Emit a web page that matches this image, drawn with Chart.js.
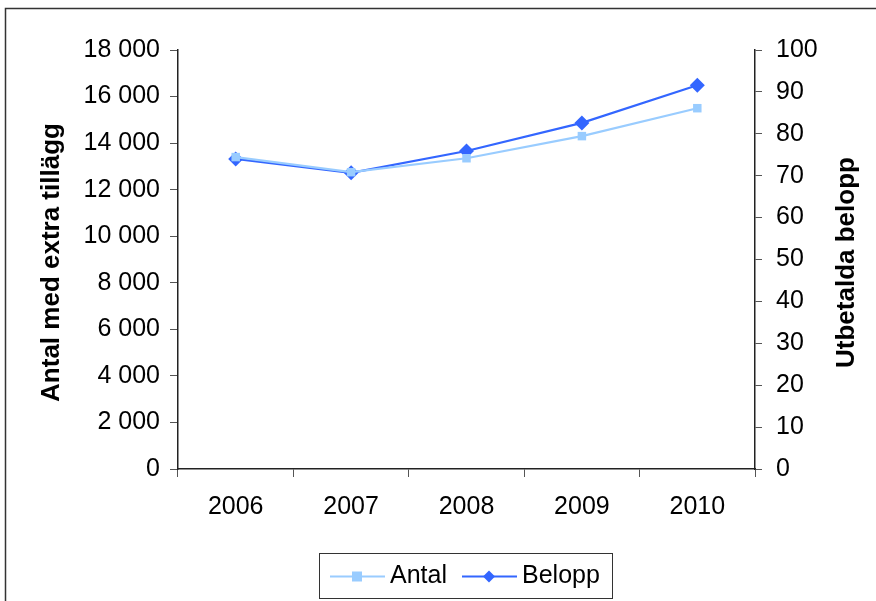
<!DOCTYPE html>
<html>
<head>
<meta charset="utf-8">
<script src="https://cdn.jsdelivr.net/npm/chart.js@4"></script>
<style>
  html, body { margin: 0; padding: 0; background: #fff; }
  #wrap { width: 876px; height: 601px; }
</style>
</head>
<body>
<div id="wrap"><canvas id="chart" width="876" height="601"></canvas></div>
<script>
// Data
const years = ['2006', '2007', '2008', '2009', '2010'];
const antal = [13400, 12750, 13350, 14300, 15500];
const belopp = [74.0, 70.7, 75.9, 82.6, 91.6];
const leftTitle = 'Antal med extra tillägg';
const rightTitle = 'Utbetalda belopp';

const FONT = '"Liberation Sans", Arial, sans-serif';
const antalColor = '#99CCFF';
const beloppColor = '#3366FF';

function fmt(v) {
    return String(v).replace(/\B(?=(\d{3})+(?!\d))/g, ' ');
}

// frame, axis titles and legend drawn on the canvas
const decor = {
    id: 'decor',
    beforeDraw(chart) {
        const c = chart.ctx;
        c.save();
        c.fillStyle = '#fff';
        c.fillRect(0, 0, chart.width, chart.height);
        c.strokeStyle = '#333';
        c.lineWidth = 1.5;
        c.strokeRect(5.5, 8.5, 1000, 1000);
        c.restore();
    },
    afterDraw(chart) {
        const c = chart.ctx;
        const a = chart.chartArea;
        const midY = (a.top + a.bottom) / 2;
        [[leftTitle, 52], [rightTitle, 847]].forEach(([txt, x]) => {
            c.save();
            c.fillStyle = '#000';
            c.font = 'bold 26px ' + FONT;
            c.textAlign = 'center';
            c.textBaseline = 'middle';
            c.translate(x, midY + 3);
            c.rotate(-Math.PI / 2);
            c.fillText(txt, 0, 0);
            c.restore();
        });

        // legend
        const bx = 319, by = 553, bw = 293, bh = 45;
        c.save();
        c.strokeStyle = '#333';
        c.lineWidth = 1;
        c.strokeRect(bx + 0.5, by + 0.5, bw, bh);
        c.font = '25px ' + FONT;
        c.textBaseline = 'middle';
        const ly = by + bh / 2 + 1;
        chart.data.datasets.forEach((ds, i) => {
            const x0 = i === 0 ? 330 : 462;
            c.strokeStyle = ds.borderColor;
            c.lineWidth = 2;
            c.beginPath();
            c.moveTo(x0, ly);
            c.lineTo(x0 + 55, ly);
            c.stroke();
            c.fillStyle = ds.backgroundColor;
            const mx = x0 + 27;
            if (ds.pointStyle === 'rect') {
                c.fillRect(mx - 5, ly - 5, 10, 10);
            } else {
                c.beginPath();
                c.moveTo(mx, ly - 6);
                c.lineTo(mx + 6, ly);
                c.lineTo(mx, ly + 6);
                c.lineTo(mx - 6, ly);
                c.closePath();
                c.fill();
            }
            c.fillStyle = '#000';
            c.fillText(ds.label, x0 + 60, ly);
        });
        c.restore();
    }
};

const ctx = document.getElementById('chart').getContext('2d');
new Chart(ctx, {
    type: 'line',
    data: {
        labels: years,
        datasets: [
            {
                label: 'Antal',
                data: antal,
                yAxisID: 'y',
                borderColor: antalColor,
                backgroundColor: antalColor,
                borderWidth: 2.2,
                pointStyle: 'rect',
                pointRadius: 6,
                pointBorderWidth: 0,
                tension: 0
            },
            {
                label: 'Belopp',
                data: belopp,
                yAxisID: 'y1',
                borderColor: beloppColor,
                backgroundColor: beloppColor,
                borderWidth: 2.2,
                pointStyle: 'rectRot',
                pointRadius: 7.5,
                pointBorderWidth: 0,
                tension: 0
            }
        ]
    },
    options: {
        responsive: false,
        animation: false,
        layout: { padding: { top: 50, left: 0, right: 0, bottom: 0 } },
        plugins: {
            legend: { display: false },
            tooltip: { enabled: false }
        },
        scales: {
            x: {
                offset: true,
                grid: { display: true, drawOnChartArea: false, offset: true, tickLength: 8, color: '#555' },
                border: { color: '#222', width: 1.5 },
                ticks: { color: '#000', font: { family: FONT, size: 25 }, padding: 15, maxRotation: 0 },
                afterFit(s) { s.height = 132; }
            },
            y: {
                position: 'left',
                min: 0,
                max: 18000,
                grid: { drawOnChartArea: false, tickLength: 8, color: '#555' },
                border: { color: '#222', width: 1.5 },
                ticks: { stepSize: 2000, color: '#000', font: { family: FONT, size: 25 }, padding: 10, callback: v => fmt(v) },
                afterFit(s) { s.width = 178; }
            },
            y1: {
                position: 'right',
                min: 0,
                max: 100,
                grid: { drawOnChartArea: false, tickLength: 7, color: '#555' },
                border: { color: '#222', width: 1.5 },
                ticks: { stepSize: 10, color: '#000', font: { family: FONT, size: 25 }, padding: 14 },
                afterFit(s) { s.width = 121; }
            }
        }
    },
    plugins: [decor]
});
</script>
</body>
</html>
